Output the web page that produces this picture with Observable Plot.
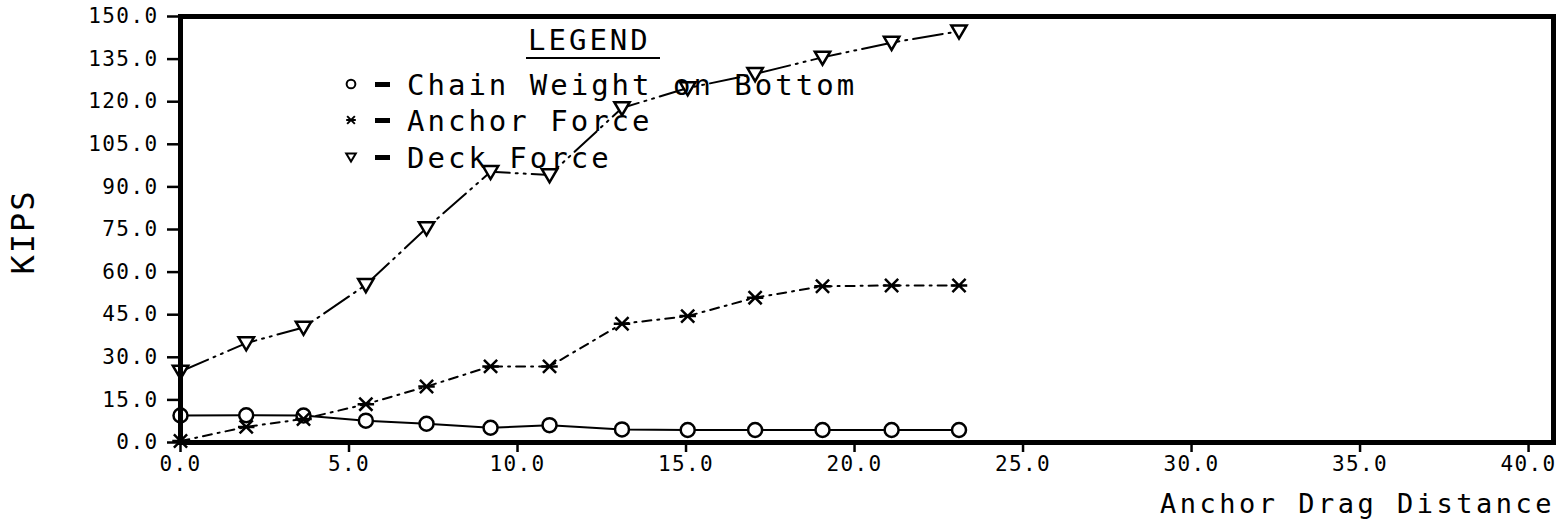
<!DOCTYPE html>
<html>
<head>
<meta charset="utf-8">
<script src="https://cdn.jsdelivr.net/npm/d3@7"></script>
<script src="https://cdn.jsdelivr.net/npm/@observablehq/plot@0.6"></script>
<style>
  html, body { margin: 0; padding: 0; background: #fff; }
  #chart { position: relative; width: 1562px; height: 531px; overflow: hidden; }
  #chart svg text { letter-spacing: 1.4px; }
</style>
</head>
<body>
<div id="chart"></div>
<script>
// ---- data ----
const distance = [0, 1.95, 3.65, 5.5, 7.3, 9.2, 10.95, 13.1, 15.05, 17.05, 19.05, 21.1, 23.1];
const chainWeight = [9.5, 9.6, 9.5, 7.7, 6.6, 5.2, 6.1, 4.6, 4.4, 4.4, 4.4, 4.4, 4.4];
const anchorForce = [0.5, 5.5, 8.3, 13.5, 19.7, 26.8, 26.8, 41.8, 44.5, 51, 55, 55.3, 55.3];
const deckForce = [25, 35, 40.5, 55.5, 75.5, 95.3, 94.2, 117.8, 124.8, 129.8, 135.6, 140.8, 144.8];
const yTicks = [0, 15, 30, 45, 60, 75, 90, 105, 120, 135, 150];
const xTicks = [0, 5, 10, 15, 20, 25, 30, 35, 40];
const seriesNames = ["Chain Weight on Bottom", "Anchor Force", "Deck Force"];

const rows = (vals) => distance.map((x, i) => ({x, v: vals[i]}));
const chainRows = rows(chainWeight);
const anchorRows = rows(anchorForce);
const deckRows = rows(deckForce);

// custom symbols
const triangleDown = {
  draw(ctx, size) {
    const r = Math.sqrt(size) * 0.62;
    ctx.moveTo(-r, -r * 0.75);
    ctx.lineTo(r, -r * 0.75);
    ctx.lineTo(0, r * 0.95);
    ctx.closePath();
  }
};
const crossBar = {
  draw(ctx, size) {
    const r = Math.sqrt(size) * 0.62;
    const d = r * 0.8;
    ctx.moveTo(-r, 0); ctx.lineTo(r, 0);
    ctx.moveTo(-d, -d); ctx.lineTo(d, d);
    ctx.moveTo(-d, d); ctx.lineTo(d, -d);
  }
};

const fmt = d3.format(".1f");
const plot = Plot.plot({
  width: 1562,
  height: 531,
  marginLeft: 180,
  marginRight: 9,
  marginTop: 16,
  marginBottom: 89,
  x: {domain: [0, 40.74]},
  y: {domain: [0, 150]},
  style: {fontFamily: "'DejaVu Sans Mono', monospace", fontSize: "21px", color: "#000", background: "#fff"},
  marks: [
    Plot.axisY({ticks: yTicks, tickSize: 13, tickPadding: 9, tickFormat: fmt, label: null, strokeWidth: 2.5, fontSize: 21}),
    Plot.axisX({ticks: xTicks, tickSize: 10, tickPadding: 4, tickFormat: fmt, label: null, strokeWidth: 2.5, fontSize: 21}),
    Plot.line(chainRows, {x: "x", y: "v", stroke: "#000", strokeWidth: 2}),
    Plot.line(anchorRows, {x: "x", y: "v", stroke: "#000", strokeWidth: 2, strokeDasharray: "9,6,2,6"}),
    Plot.line(deckRows, {x: "x", y: "v", stroke: "#000", strokeWidth: 2, strokeDasharray: "30,6,2,6,2,6"}),
    Plot.dot(chainRows, {x: "x", y: "v", r: 7, stroke: "#000", fill: "#fff", strokeWidth: 2.5}),
    Plot.dot(anchorRows, {x: "x", y: "v", r: 7.5, symbol: crossBar, stroke: "#000", strokeWidth: 2.5}),
    Plot.dot(deckRows, {x: "x", y: "v", r: 7, symbol: triangleDown, stroke: "#000", fill: "#fff", strokeWidth: 2.5}),
    Plot.frame({stroke: "#000", strokeWidth: 5})
  ]
});
document.getElementById("chart").appendChild(plot);

// ---- titles and legend as real text ----
const svg = d3.select(plot);
const g = svg.append("g")
  .attr("fill", "#000")
  .attr("text-anchor", "start")
  .style("font-family", "'DejaVu Sans Mono', monospace");

g.append("text")
  .attr("transform", "translate(34,232) rotate(-90)")
  .attr("text-anchor", "middle")
  .style("font-size", "32px")
  .style("letter-spacing", "2px")
  .text("KIPS");

g.append("text")
  .attr("x", 1160).attr("y", 513)
  .style("font-size", "27px")
  .style("letter-spacing", "3.5px")
  .text("Anchor Drag Distance");

// legend
g.append("text").attr("x", 528).attr("y", 50).style("font-size", "29px").style("letter-spacing", "3px").text("LEGEND");
g.append("line").attr("x1", 526).attr("x2", 660).attr("y1", 58).attr("y2", 58).attr("stroke", "#000").attr("stroke-width", 2);

const legendY = [84, 120, 157];
const legendSymbols = [d3.symbolCircle, crossBar, triangleDown];
seriesNames.forEach((name, i) => {
  const cy = legendY[i];
  g.append("path")
    .attr("transform", `translate(351,${cy})`)
    .attr("d", d3.symbol(legendSymbols[i], 60)())
    .attr("fill", "none").attr("stroke", "#000").attr("stroke-width", 2);
  g.append("rect").attr("x", 375).attr("y", cy - 2).attr("width", 15).attr("height", 5).attr("fill", "#000");
  g.append("text").attr("x", 407).attr("y", cy + 11).style("font-size", "29px").style("letter-spacing", "3px").text(name);
});
</script>
</body>
</html>
